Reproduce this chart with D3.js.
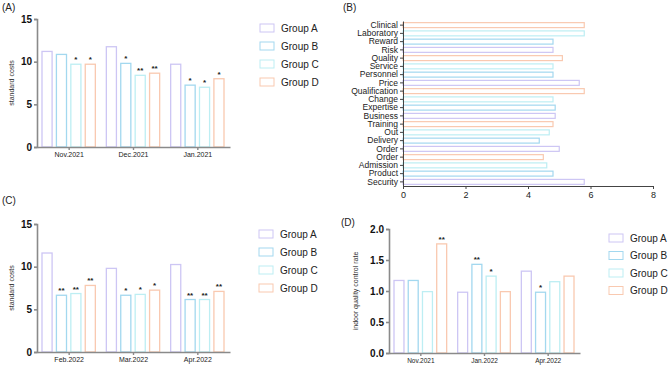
<!DOCTYPE html>
<html>
<head>
<meta charset="utf-8">
<script src="https://cdn.jsdelivr.net/npm/d3@7/dist/d3.min.js"></script>
<style>
  body { margin: 0; background: #fff; }
  svg { font-family: "Liberation Sans", Arial, sans-serif; }
</style>
</head>
<body>
<svg id="chart" width="669" height="366"></svg>
<script>
// ---- data ----
const groups = ['Group A', 'Group B', 'Group C', 'Group D'];
const groupColors = ['#cdc6f4', '#a3d8ef', '#bdeef3', '#f9c9b0'];

// panel A
const monthsA = ['Nov.2021', 'Dec.2021', 'Jan.2021'];
const valuesA = [
  [11.2, 10.85, 9.7, 9.7],
  [11.75, 9.8, 8.4, 8.65],
  [9.7, 7.25, 7.0, 8.0]
];
const starsA = [
  ['', '', '*', '*'],
  ['', '*', '**', '**'],
  ['', '*', '*', '*']
];

// panel B (listed top to bottom)
const itemsB = ['Clinical', 'Laboratory', 'Reward', 'Risk', 'Quality', 'Service', 'Personnel',
  'Price', 'Qualification', 'Change', 'Expertise', 'Business', 'Training', 'Out', 'Delivery',
  'Order', 'Order', 'Admission', 'Product', 'Security'];
const valuesB = [5.8, 5.8, 4.8, 4.8, 5.1, 4.8, 4.8, 5.64, 5.8, 4.8, 4.87, 4.87, 4.8, 4.68,
  4.36, 5.0, 4.49, 4.6, 4.8, 5.8];
const ticksB = [0, 2, 4, 6, 8];

// panel C
const monthsC = ['Feb.2022', 'Mar.2022', 'Apr.2022'];
const valuesC = [
  [11.6, 6.65, 6.85, 7.8],
  [9.8, 6.65, 6.75, 7.25],
  [10.25, 6.15, 6.15, 7.1]
];
const starsC = [
  ['', '**', '**', '**'],
  ['', '*', '*', '*'],
  ['', '**', '**', '**']
];

// panel D
const monthsD = ['Nov.2021', 'Jan.2022', 'Apr.2022'];
const valuesD = [
  [1.17, 1.17, 0.99, 1.76],
  [0.98, 1.43, 1.24, 0.99],
  [1.32, 0.98, 1.15, 1.24]
];
const starsD = [
  ['', '', '', '**'],
  ['', '**', '*', ''],
  ['', '*', '', '']
];

const svg = d3.select('#chart');

function panelLabel(text, x, y) {
  svg.append('text').attr('x', x).attr('y', y)
    .attr('font-size', 10).attr('fill', '#222').text(text);
}

// grouped bar panel with stars and legend
function groupedBars(opt) {
  const g = svg.append('g');
  const x = d3.scaleBand().domain(opt.months).range([opt.x0, opt.x1]);
  const inner = d3.scaleBand().domain(groups)
    .range([5, x.bandwidth() - 6]).paddingInner(0.3);
  const y = d3.scaleLinear().domain(opt.yDomain).range([opt.y0, opt.y1]);

  opt.months.forEach((m, i) => {
    const row = g.append('g').attr('transform', `translate(${x(m)},0)`);
    row.selectAll('rect')
      .data(opt.values[i])
      .enter().append('rect')
      .attr('x', (d, j) => inner(groups[j]))
      .attr('y', d => y(d))
      .attr('width', inner.bandwidth())
      .attr('height', d => y(0) - y(d))
      .attr('fill', 'none')
      .attr('stroke', (d, j) => groupColors[j])
      .attr('stroke-width', 1.3);
    row.selectAll('text.star')
      .data(opt.stars[i])
      .enter().append('text')
      .attr('class', 'star')
      .attr('x', (d, j) => inner(groups[j]) + inner.bandwidth() / 2)
      .attr('y', (d, j) => y(opt.values[i][j]) - 2)
      .attr('text-anchor', 'middle')
      .attr('font-size', 8).attr('font-weight', 'bold').attr('fill', '#222')
      .text(d => d);
  });

  // y axis
  const ya = g.append('g').attr('transform', `translate(${opt.x0},0)`)
    .call(d3.axisLeft(y).tickValues(opt.yTicks).tickFormat(opt.yFormat).tickSize(3).tickPadding(2));
  ya.selectAll('path, line').attr('stroke', '#8a8a8a').attr('stroke-width', 1.6);
  ya.selectAll('text').attr('font-size', 10).attr('font-weight', 'bold').attr('fill', '#111')
    .attr('font-family', '"Liberation Sans", Arial, sans-serif');

  // x axis
  const xa = g.append('g').attr('transform', `translate(0,${opt.y0})`)
    .call(d3.axisBottom(x).tickSize(3).tickSizeOuter(0).tickPadding(2));
  xa.selectAll('path, line').attr('stroke', '#8a8a8a').attr('stroke-width', 1.4);
  xa.selectAll('text').attr('font-size', opt.xFont).attr('fill', '#222')
    .attr('font-family', '"Liberation Sans", Arial, sans-serif');

  // y title
  g.append('text')
    .attr('transform', `translate(${opt.titleX},${(opt.y0 + opt.y1) / 2}) rotate(-90)`)
    .attr('text-anchor', 'middle').attr('font-size', 7).attr('fill', '#333')
    .text(opt.yTitle);

  // legend
  const lg = g.append('g').attr('transform', `translate(${opt.legX},${opt.legY})`);
  groups.forEach((name, j) => {
    lg.append('rect').attr('x', 0).attr('y', j * opt.legStep - 4)
      .attr('width', 14).attr('height', 8)
      .attr('fill', 'none').attr('stroke', groupColors[j]).attr('stroke-width', 1);
    lg.append('text').attr('x', 21).attr('y', j * opt.legStep + 3.5)
      .attr('font-size', 10).attr('fill', '#222').text(name);
  });
}

// (A)
panelLabel('(A)', 2, 11);
groupedBars({
  months: monthsA, values: valuesA, stars: starsA,
  x0: 37, x1: 230, y0: 147, y1: 19, yDomain: [0, 15], yTicks: [0, 5, 10, 15],
  yFormat: d3.format('d'), xFont: 7, yTitle: 'standard costs', titleX: 14,
  legX: 260, legY: 28, legStep: 18
});

// (C)
panelLabel('(C)', 2, 204);
groupedBars({
  months: monthsC, values: valuesC, stars: starsC,
  x0: 37, x1: 230, y0: 352, y1: 224, yDomain: [0, 15], yTicks: [0, 5, 10, 15],
  yFormat: d3.format('d'), xFont: 7, yTitle: 'standard costs', titleX: 14,
  legX: 259, legY: 234, legStep: 18
});

// (D)
panelLabel('(D)', 341, 226);
groupedBars({
  months: monthsD, values: valuesD, stars: starsD,
  x0: 389, x1: 580, y0: 353, y1: 229, yDomain: [0, 2], yTicks: [0, 0.5, 1, 1.5, 2],
  yFormat: d3.format('.1f'), xFont: 6.5, yTitle: 'indoor quality control rate', titleX: 358,
  legX: 609, legY: 238, legStep: 17.5
});

// (B) horizontal bars
panelLabel('(B)', 343, 11);
(function () {
  const g = svg.append('g');
  const x = d3.scaleLinear().domain([0, 8]).range([403, 653]);
  const y = d3.scaleBand().domain(d3.range(itemsB.length)).range([21, 186]).paddingInner(0.4).paddingOuter(0.2);
  const n = itemsB.length;

  g.selectAll('rect')
    .data(valuesB)
    .enter().append('rect')
    .attr('x', x(0))
    .attr('y', (d, i) => y(i))
    .attr('width', d => x(d) - x(0))
    .attr('height', y.bandwidth())
    .attr('fill', 'none')
    .attr('stroke', (d, i) => groupColors[(n - 1 - i) % 4])
    .attr('stroke-width', 1.2);

  const ya = g.append('g').attr('transform', `translate(${x(0)},0)`)
    .call(d3.axisLeft(y).tickFormat(i => itemsB[i]).tickSize(3).tickPadding(2).tickSizeOuter(0));
  ya.selectAll('path, line').attr('stroke', '#444').attr('stroke-width', 1);
  ya.selectAll('text').attr('font-size', 8.5).attr('fill', '#222')
    .attr('font-family', '"Liberation Sans", Arial, sans-serif');

  const xa = g.append('g').attr('transform', `translate(0,186)`)
    .call(d3.axisBottom(x).tickValues(ticksB).tickSize(3).tickSizeOuter(0).tickPadding(3));
  xa.selectAll('path, line').attr('stroke', '#444').attr('stroke-width', 1);
  xa.selectAll('text').attr('font-size', 9).attr('fill', '#222')
    .attr('font-family', '"Liberation Sans", Arial, sans-serif');
})();
</script>
</body>
</html>
